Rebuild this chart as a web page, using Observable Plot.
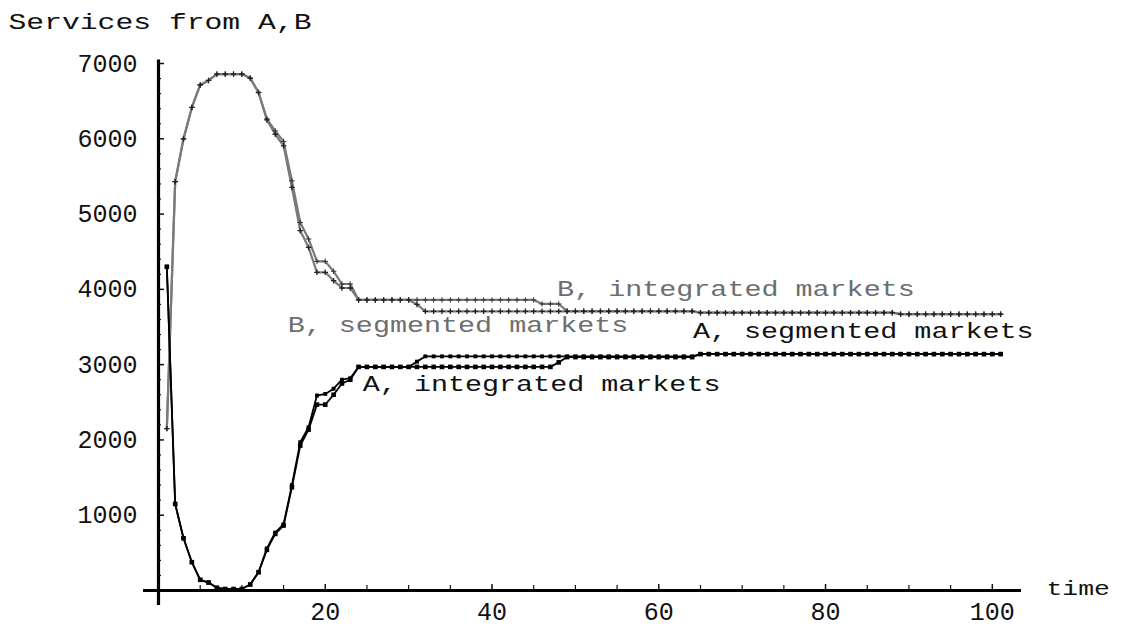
<!DOCTYPE html>
<html><head><meta charset="utf-8">
<script src="https://cdn.jsdelivr.net/npm/d3@7"></script>
<script src="https://cdn.jsdelivr.net/npm/@observablehq/plot@0.6"></script>
<style>
body{margin:0;background:#fff;}
#chart{width:1126px;height:635px;}
</style></head><body><div id="chart"></div>
<script>
// time steps 1..101
const time = d3.range(1, 102);

const A_integrated = [
 4300,1150,694,376,142,106,36,20,20,20,
 80,243,540,752,863,1371,1925,2137,2469,2469,
 2600,2750,2800,2970,2970,2970,2970,2970,2970,2970,
 2970,2970,2970,2970,2970,2970,2970,2970,2970,2970,
 2970,2970,2970,2970,2970,2970,2970,3030,3100,3100,
 3100,3100,3100,3100,3100,3100,3100,3100,3100,3100,
 3100,3100,3100,3100,3140,3140,3140,3140,3140,3140,
 3140,3140,3140,3140,3140,3140,3140,3140,3140,3140,
 3140,3140,3140,3140,3140,3140,3140,3140,3140,3140,
 3140,3140,3140,3140,3140,3140,3140,3140,3140,3140,
 3140];
const A_segmented = [
 4300,1150,694,376,142,106,36,20,20,20,
 80,243,560,770,880,1400,1970,2168,2590,2611,
 2680,2800,2820,2970,2970,2970,2970,2970,2970,2970,
 3040,3110,3110,3110,3110,3110,3110,3110,3110,3110,
 3110,3110,3110,3110,3110,3110,3110,3110,3110,3110,
 3110,3110,3110,3110,3110,3110,3110,3110,3110,3110,
 3110,3110,3110,3110,3140,3140,3140,3140,3140,3140,
 3140,3140,3140,3140,3140,3140,3140,3140,3140,3140,
 3140,3140,3140,3140,3140,3140,3140,3140,3140,3140,
 3140,3140,3140,3140,3140,3140,3140,3140,3140,3140,
 3140];
const B_integrated = [
 2150,5430,6000,6416,6715,6775,6859,6859,6859,6859,
 6806,6615,6265,6106,5965,5442,4889,4669,4372,4372,
 4240,4071,4071,3860,3860,3860,3860,3860,3860,3860,
 3860,3860,3860,3860,3860,3860,3860,3860,3860,3860,
 3860,3860,3860,3860,3860,3806,3806,3806,3710,3710,
 3710,3710,3710,3710,3710,3710,3710,3710,3710,3710,
 3710,3710,3710,3710,3690,3690,3690,3690,3690,3690,
 3690,3690,3690,3690,3690,3690,3690,3690,3690,3690,
 3690,3690,3690,3690,3690,3690,3690,3690,3670,3670,
 3670,3670,3670,3670,3670,3670,3670,3670,3670,3670,
 3670];
const B_segmented = [
 2150,5430,6000,6416,6715,6775,6859,6859,6859,6859,
 6806,6615,6250,6060,5907,5354,4779,4557,4226,4226,
 4115,4018,4018,3860,3860,3860,3860,3860,3860,3860,
 3800,3708,3708,3708,3708,3708,3708,3708,3708,3708,
 3708,3708,3708,3708,3708,3708,3708,3708,3708,3708,
 3708,3708,3708,3708,3708,3708,3708,3708,3708,3708,
 3708,3708,3708,3708,3690,3690,3690,3690,3690,3690,
 3690,3690,3690,3690,3690,3690,3690,3690,3690,3690,
 3690,3690,3690,3690,3690,3690,3690,3690,3670,3670,
 3670,3670,3670,3670,3670,3670,3670,3670,3670,3670,
 3670];

const yMajor = [1000,2000,3000,4000,5000,6000,7000];
const yMinor = [200,400,600,800,1200,1400,1600,1800,2200,2400,2600,2800,3200,3400,3600,3800,4200,4400,4600,4800,5200,5400,5600,5800,6200,6400,6600,6800];
const xMajor = [20,40,60,80,100];
const xMinor = [5,10,15,25,30,35,45,50,55,65,70,75,85,90,95];

const labelText = ["B, integrated markets","B, segmented markets","A, segmented markets","A, integrated markets"];
const labelX = [47.8, 15.5, 64.1, 24.5];
const labelY = [4002, 3531, 3445, 2748];
const labelSeries = ["B","B","A","A"];

const title = "Services from A,B";
const xTitle = "time";

const grey = "#7a7a7a";
const toRows = (vals) => time.map((t, i) => ({t, v: vals[i]}));
const Ai = toRows(A_integrated), As = toRows(A_segmented), Bi = toRows(B_integrated), Bs = toRows(B_segmented);
const labels = labelText.map((s, i) => ({s, x: labelX[i], y: labelY[i], c: labelSeries[i] === "B" ? "#6e6e6e" : "#111"}));

const svg = Plot.plot({
  width: 1126, height: 635,
  marginLeft: 158, marginRight: 105, marginTop: 63, marginBottom: 45,
  x: {domain: [0, 103.5], label: null},
  y: {domain: [0, 7000], label: null},
  style: {fontFamily: "'Liberation Mono', monospace", background: "#fff", color: "#111", overflow: "visible"},
  marks: [
    // axes lines (Mathematica style, crossing at origin)
    Plot.ruleX([0], {y1: -200, y2: 7045, stroke: "#000", strokeWidth: 3.2}),
    Plot.ruleY([0], {x1: -1.8, x2: 103.5, stroke: "#000", strokeWidth: 3.2}),
    // y ticks pointing inward
    Plot.axisY({ticks: yMajor, tickSize: 6, dx: 6, text: null, label: null, strokeWidth: 1.5}),
    Plot.axisY({ticks: yMinor, tickSize: 3, dx: 3, text: null, label: null, strokeWidth: 1.2}),
    Plot.axisY({ticks: yMajor, tickSize: 0, tickPadding: 21, label: null, fontSize: 25, tickFormat: d => String(d)}),
    // x ticks pointing up
    Plot.axisX({ticks: xMajor, tickSize: 6, dy: -6, text: null, label: null, strokeWidth: 1.5}),
    Plot.axisX({ticks: xMinor, tickSize: 5, dy: -5, text: null, label: null, strokeWidth: 1.2}),
    Plot.axisX({ticks: xMajor, tickSize: 0, tickPadding: 12, label: null, fontSize: 25, tickFormat: d => String(d)}),
    // B series
    Plot.line(Bi, {x: "t", y: "v", stroke: grey, strokeWidth: 2.2}),
    Plot.line(Bs, {x: "t", y: "v", stroke: grey, strokeWidth: 2.2}),
    Plot.dot(Bi, {x: "t", y: "v", symbol: "plus", r: 1.9, stroke: "#333", strokeWidth: 1}),
    Plot.dot(Bs, {x: "t", y: "v", symbol: "plus", r: 1.9, stroke: "#222", strokeWidth: 1.3}),
    // A series
    Plot.line(Ai, {x: "t", y: "v", stroke: "#000", strokeWidth: 1.8}),
    Plot.line(As, {x: "t", y: "v", stroke: "#000", strokeWidth: 1.8}),
    Plot.dot(Ai, {x: "t", y: "v", symbol: "square", r: 2.6, fill: "#000"}),
    Plot.dot(As, {x: "t", y: "v", symbol: "square", r: 2.2, fill: "#000"}),
    // series labels
    Plot.text(labels, {x: "x", y: "y", text: "s", fill: "c", textAnchor: "start", lineAnchor: "middle", fontSize: 21.5}),
    // axis title "time"
    Plot.text([xTitle], {x: 106.5, y: 30, textAnchor: "start", lineAnchor: "middle", fontSize: 20, fill: "#111"}),
    // chart title
    Plot.text([title], {frameAnchor: "top-left", dx: -150, dy: -50, textAnchor: "start", lineAnchor: "top", fontSize: 22.5, fill: "#111"})
  ]
});
document.getElementById("chart").appendChild(svg);
// horizontally stretch annotation text to match the wide Courier rendering
svg.querySelectorAll('g[aria-label="text"] text').forEach(t => {
  const w = t.getComputedTextLength();
  t.setAttribute("textLength", (w * 1.32).toFixed(1));
  t.setAttribute("lengthAdjust", "spacingAndGlyphs");
});
</script></body></html>
